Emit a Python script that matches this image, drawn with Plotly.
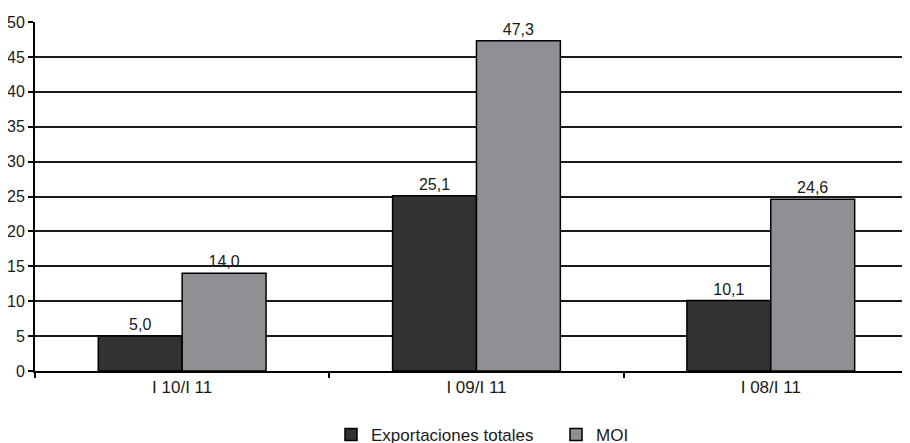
import plotly.graph_objects as go

categories = ["I 10/I 11", "I 09/I 11", "I 08/I 11"]
exportaciones = [5.0, 25.1, 10.1]
moi = [14.0, 47.3, 24.6]
y_ticks = [0, 5, 10, 15, 20, 25, 30, 35, 40, 45, 50]

FONT = "Liberation Sans, Arial, sans-serif"
W, H = 902, 435  # page body has an 8px offset inside the 910x443 window

fig = go.Figure()
fig.add_trace(go.Bar(
    x=categories, y=exportaciones, name="Exportaciones totales",
    marker=dict(color="#313234", line=dict(color="#000000", width=1.5)),
    text=[f"{v:.1f}".replace(".", ",") for v in exportaciones],
    textposition="outside", cliponaxis=False,
    textfont=dict(size=16, color="#1a1a1a"),
))
fig.add_trace(go.Bar(
    x=categories, y=moi, name="MOI",
    marker=dict(color="#8e9094", line=dict(color="#000000", width=1.5)),
    text=[f"{v:.1f}".replace(".", ",") for v in moi],
    textposition="outside", cliponaxis=False,
    textfont=dict(size=16, color="#1a1a1a"),
))

fig.update_layout(
    width=W, height=H,
    margin=dict(l=27, r=0, t=14, b=72),
    paper_bgcolor="white", plot_bgcolor="white",
    font=dict(family=FONT, size=16, color="#1a1a1a"),
    barmode="group", bargap=0.43, bargroupgap=0,
    separators=",.",
    showlegend=True,
    legend=dict(orientation="h",
                xref="container", x=323 / W, xanchor="left",
                yref="container", y=8 / H, yanchor="middle",
                entrywidth=180, entrywidthmode="pixels",
                font=dict(size=17, color="#1a1a1a")),
)
fig.update_xaxes(
    type="category", range=[-0.5, 2.473], automargin=False,
    showline=True, linecolor="#000000", linewidth=2,
    ticks="outside", tickson="boundaries", tickcolor="#000000", ticklen=5, tickwidth=2,
    showgrid=False, tickfont=dict(size=17),
)
fig.update_yaxes(
    range=[0, 50], tickvals=y_ticks, automargin=False,
    showline=True, linecolor="#000000", linewidth=2,
    ticks="outside", tickcolor="#000000", ticklen=5, tickwidth=2,
    showgrid=True, gridcolor="#1a1a1a", gridwidth=2,
    zeroline=False, tickfont=dict(size=16),
)

fig.write_html("out.html")
